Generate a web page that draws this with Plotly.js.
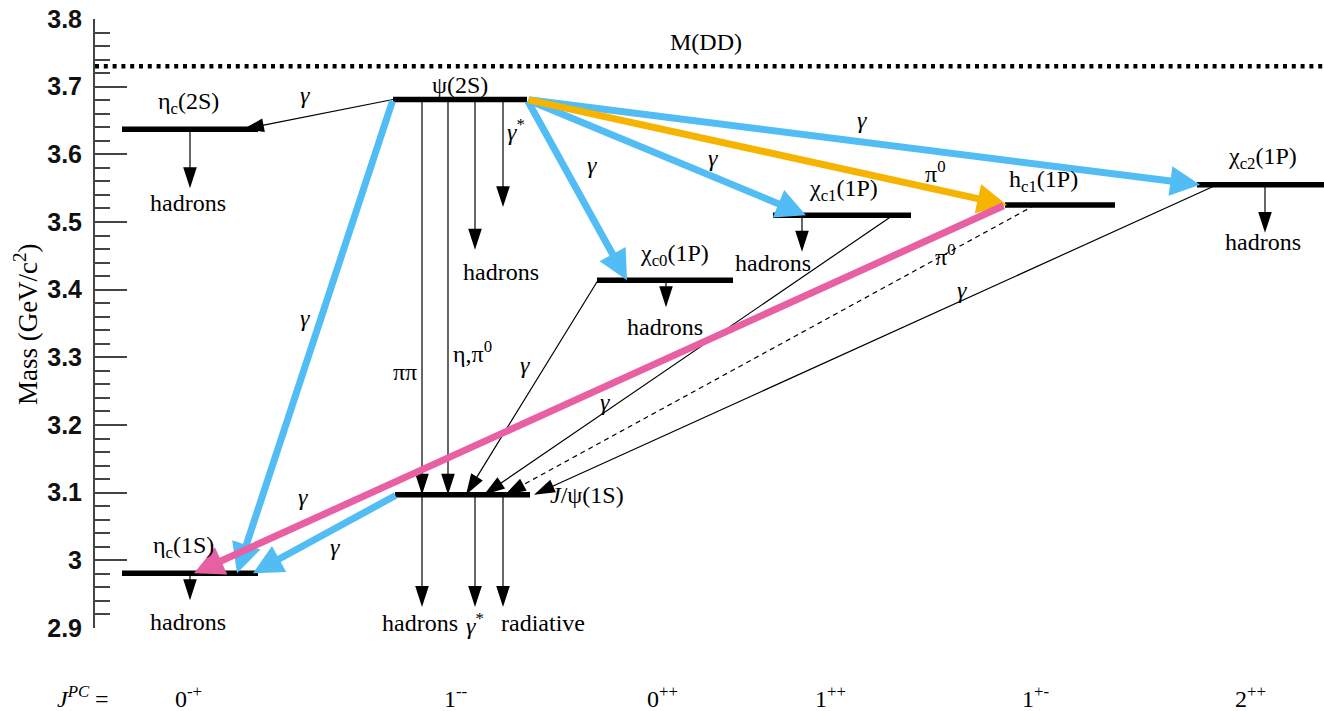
<!DOCTYPE html>
<html><head><meta charset="utf-8">
<script src="https://cdn.plot.ly/plotly-3.0.1.min.js"></script>
<style>html,body{margin:0;padding:0;background:#fff}#chart{width:1324px;height:711px}</style>
</head><body><div id="chart"></div>
<script>
// ================= DATA =================
const states      = ['etac(2S)','psi(2S)','chic0(1P)','chic1(1P)','hc1(1P)','chic2(1P)','J/psi(1S)','etac(1S)'];
const stateLabels = ['η<sub>c</sub>(2S)','ψ(2S)','χ<sub>c0</sub>(1P)','χ<sub>c1</sub>(1P)','h<sub>c1</sub>(1P)','χ<sub>c2</sub>(1P)','<i>J</i>/ψ(1S)','η<sub>c</sub>(1S)'];
const masses      = [3.637, 3.681, 3.414, 3.510, 3.525, 3.555, 3.097, 2.981];   // GeV/c^2
const thresholdLabel = 'M(DD)';
const thresholdMass  = 3.730;
const jpcLabels   = ['0<sup>-+</sup>','1<sup>--</sup>','0<sup>++</sup>','1<sup>++</sup>','1<sup>+-</sup>','2<sup>++</sup>'];

// transitions between levels (indices into states)
const transFrom  = [1, 1, 1, 1, 1, 1, 4, 6, 2, 3, 4, 5, 1, 1];
const transTo    = [0, 7, 2, 3, 5, 4, 7, 7, 6, 6, 6, 6, 6, 6];
const transLabel = ['γ','γ','γ','γ','γ','π<sup>0</sup>','γ','γ','γ','γ','π<sup>0</sup>','γ','ππ','η,π<sup>0</sup>'];

// decays out of the scheme
const decayFrom  = [1, 1, 6, 6, 6, 0, 7, 2, 3, 5];
const decayLabel = ['hadrons','γ<sup>*</sup>','hadrons','γ<sup>*</sup>','radiative','hadrons','hadrons','hadrons','hadrons','hadrons'];

// ================= LAYOUT / STYLE =================
const XR = [95, 1324];                     // horizontal layout units
const levelX = [[122,258],[393,527],[597,733],[773,911],[1005,1115],[1197,1340],[395,530],[122,258]];
const levelLabelPos = [[188,3.676],[460,3.702],[674,3.451],[843,3.547],[1043,3.561],[1262,3.595],[548,3.097],[183,3.020]];
const levelLabelAnchor = ['center','center','center','center','center','center','left','center'];

const transX = [[393,243],[393,237],[527,627],[527,806],[527,1200],[527,1007],[1005,194],[397,253],
                [598,466],[893,484],[1035,505],[1217,534],[422,422],[448,448]];
const transStyle = ['thin','blue','blue','blue','blue','orange','pink','blue','thin','thin','dash','thin','thin','thin'];
const transLabelPos = [[305,3.688],[305,3.358],[592,3.584],[713,3.595],[862,3.651],[935,3.574],[303,3.094],[335,3.020],
                       [525,3.289],[605,3.234],[945,3.451],[962,3.399],[405,3.278],[472,3.308]];

const decayX = [475, 503, 422, 475, 503, 190, 190, 666, 802, 1265];
const decayEnd = [3.459, 3.522, 2.931, 2.931, 2.931, 3.550, 2.941, 3.374, 3.456, 3.484];
const decayLabelPos = [[501,3.426],[516,3.636],[420,2.907],[475,2.906],[543,2.907],[188,3.528],[188,2.909],[665,3.345],[773,3.439],[1263,3.470]];

const STY = {
  thin:   {color:'#000000', width:1.2, dash:'solid', head:22},
  dash:   {color:'#000000', width:1.2, dash:'5px,4px', head:22},
  blue:   {color:'#52BDF5', width:7},
  orange: {color:'#F6B400', width:7},
  pink:   {color:'#E95FA3', width:7}
};
const SERIF = 'Liberation Serif';
const FS = 24;

const traces = [];
// threshold
traces.push({x:XR.slice(), y:[thresholdMass, thresholdMass], mode:'lines', hoverinfo:'skip',
  line:{color:'#000', width:4.5, dash:'4px,4.8px'}, showlegend:false});
// levels
states.forEach((s,i)=>{
  traces.push({x:levelX[i], y:[masses[i],masses[i]], mode:'lines', name:s, hoverinfo:'skip',
    line:{color:'#000', width:5.5}, showlegend:false});
});
function thinArrow(x, y, st){
  const S = STY[st];
  return {x:x, y:y, mode:'lines+markers', hoverinfo:'skip', showlegend:false, cliponaxis:false,
    line:{color:S.color, width:S.width, dash:S.dash},
    marker:{symbol:'arrow', size:[0,S.head], angleref:'previous', color:S.color, opacity:1, line:{width:0}}};
}
// decays
decayFrom.forEach((f,i)=>{
  traces.push(thinArrow([decayX[i],decayX[i]], [masses[f], decayEnd[i]], 'thin'));
});
// thin transitions
transFrom.forEach((f,i)=>{
  if (transStyle[i]==='thin' || transStyle[i]==='dash')
    traces.push(thinArrow(transX[i], [masses[f], masses[transTo[i]]], transStyle[i]));
});

const ann = [];
// thick transitions as annotation arrows, in layer order
['blue','orange','pink'].forEach(layer=>{
  transFrom.forEach((f,i)=>{
    if (transStyle[i]!==layer) return;
    const S = STY[layer];
    ann.push({x:transX[i][1], y:masses[transTo[i]], ax:transX[i][0], ay:masses[f],
      xref:'x', yref:'y', axref:'x', ayref:'y', text:'', showarrow:true,
      arrowhead:2, arrowsize:0.85, arrowwidth:S.width, arrowcolor:S.color});
  });
});
function lab(x,y,t,anchor,extra){
  ann.push(Object.assign({x:x,y:y,xref:'x',yref:'y',text:t,showarrow:false,xanchor:anchor||'center',yanchor:'middle',
    font:{family:SERIF,size:FS,color:'#000'}}, extra||{}));
}
stateLabels.forEach((t,i)=>lab(levelLabelPos[i][0], levelLabelPos[i][1], t, levelLabelAnchor[i]));
transLabel.forEach((t,i)=>{
  const tt = (t==='γ') ? '<i>γ</i>' : t;
  lab(transLabelPos[i][0], transLabelPos[i][1], tt);
});
decayLabel.forEach((t,i)=>lab(decayLabelPos[i][0], decayLabelPos[i][1], t.indexOf('γ')===0 ? '<i>γ</i><sup>*</sup>' : t));
lab(706, 3.766, thresholdLabel);

// x "axis" J^PC row
const jpcX = [188, 455, 662, 830, 1035, 1250];
const toPaperX = px => (px - XR[0])/(XR[1]-XR[0]);
ann.push({x:toPaperX(55), y:-0.113, xref:'paper', yref:'paper', xanchor:'left', yanchor:'middle', showarrow:false,
  text:'<i>J</i><sup><i>PC</i></sup> =', font:{family:SERIF,size:FS,color:'#000'}});
jpcLabels.forEach((t,i)=>ann.push({x:jpcX[i], y:-0.113, xref:'x', yref:'paper', xanchor:'center', yanchor:'middle',
  showarrow:false, text:t, font:{family:SERIF,size:FS,color:'#000'}}));
// y title
ann.push({x:toPaperX(26), y:0.499, xref:'paper', yref:'paper', xanchor:'center', yanchor:'middle', showarrow:false,
  textangle:-90, text:'Mass (GeV/c<sup>2</sup>)', font:{family:SERIF,size:27,color:'#000'}});

const layout = {
  width:1324, height:711,
  margin:{l:95, r:0, t:19, b:83, pad:0},
  paper_bgcolor:'#fff', plot_bgcolor:'#fff',
  showlegend:false,
  xaxis:{range:XR, visible:false, fixedrange:true},
  yaxis:{range:[2.9,3.8], tick0:2.9, dtick:0.1, ticks:'inside', ticklen:32, tickwidth:2, tickcolor:'#444',
    showline:true, linewidth:2, linecolor:'#444', showgrid:false, zeroline:false,
    ticklabelstandoff:6,
    tickfont:{family:'Liberation Sans', size:25, color:'#111', weight:'bold'},
    minor:{dtick:0.02, ticks:'inside', ticklen:15, tickwidth:2, tickcolor:'#444', showgrid:false}},
  annotations: ann
};
Plotly.newPlot('chart', traces, layout, {staticPlot:true, displayModeBar:false});
</script>
</body></html>
